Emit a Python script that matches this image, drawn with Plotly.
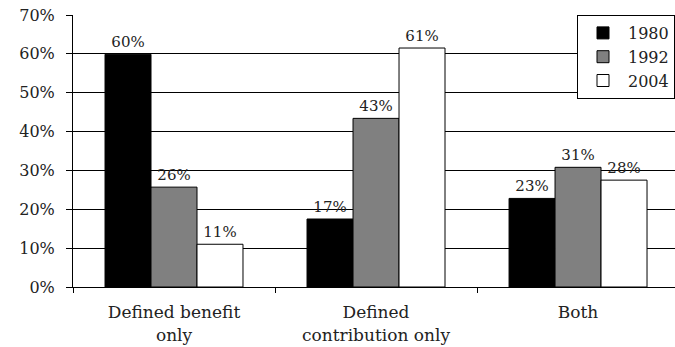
import plotly.graph_objects as go

categories = ["Defined benefit<br>only", "Defined<br>contribution only", "Both"]
years = ["1980", "1992", "2004"]
values_1980 = [59.9, 17.5, 22.8]
values_1992 = [25.7, 43.4, 30.8]
values_2004 = [11.0, 61.5, 27.5]
labels_1980 = ["60%", "17%", "23%"]
labels_1992 = ["26%", "43%", "31%"]
labels_2004 = ["11%", "61%", "28%"]
y_ticks = [0, 10, 20, 30, 40, 50, 60, 70]
y_tick_labels = ["0%", "10%", "20%", "30%", "40%", "50%", "60%", "70%"]

series = [
    ("1980", values_1980, labels_1980, "#000000"),
    ("1992", values_1992, labels_1992, "#808080"),
    ("2004", values_2004, labels_2004, "#ffffff"),
]

FONT = "DejaVu Serif"

fig = go.Figure()
for name, vals, labs, color in series:
    fig.add_trace(go.Bar(
        name=name,
        x=categories,
        y=vals,
        text=labs,
        textposition="outside",
        texttemplate="%{text}",
        textfont=dict(family=FONT, size=15, color="#222"),
        cliponaxis=False,
        marker=dict(color=color, line=dict(color="#000", width=1)),
    ))

fig.update_layout(
    width=675, height=347,
    margin=dict(l=73, r=0, t=15, b=60),
    barmode="group",
    bargap=0.317,
    bargroupgap=0,
    plot_bgcolor="white",
    paper_bgcolor="white",
    font=dict(family=FONT, color="#222"),
    showlegend=True,
    legend=dict(
        x=1, y=1, xanchor="right", yanchor="top",
        bgcolor="white", bordercolor="#000", borderwidth=1,
        font=dict(family=FONT, size=16, color="#222"),
        tracegroupgap=0,
        itemwidth=40,
    ),
)
fig.update_xaxes(
    type="category",
    range=[-0.5, 2.48],
    showline=True, linecolor="#000", linewidth=1,
    ticks="outside", tickson="boundaries", ticklen=5, tickcolor="#000",
    tickfont=dict(family=FONT, size=17, color="#222"),
    ticklabelstandoff=10,
    showgrid=False,
)
fig.update_yaxes(
    range=[0, 70],
    tickvals=y_ticks, ticktext=y_tick_labels,
    showline=True, linecolor="#000", linewidth=1,
    ticks="outside", ticklen=6, tickcolor="#000",
    tickfont=dict(family=FONT, size=16, color="#222"),
    ticklabelstandoff=8,
    showgrid=True, gridcolor="#000", gridwidth=1,
    zeroline=False,
)

fig.write_html("out.html")
